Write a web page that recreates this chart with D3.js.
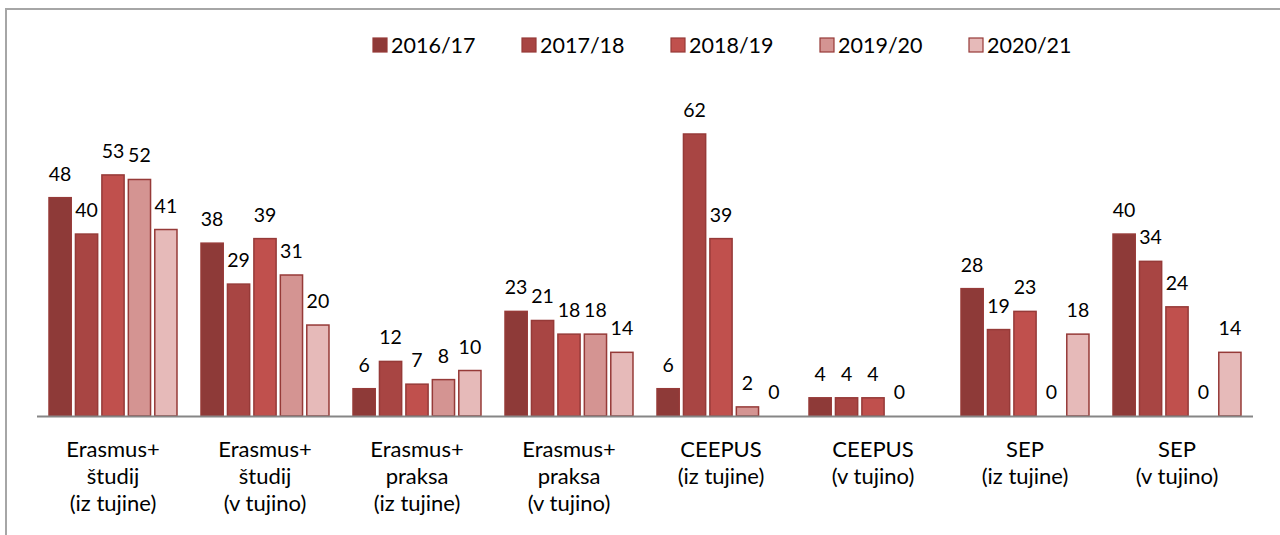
<!DOCTYPE html>
<html>
<head>
<meta charset="utf-8">
<script src="https://cdn.jsdelivr.net/npm/d3@7"></script>
<style>
  body { margin: 0; background: #fff; }
  svg { display: block; font-family: Lato, "Open Sans", sans-serif; }
</style>
</head>
<body>
<svg id="chart" width="1280" height="535"></svg>
<script>
// data
const categories = [
  ["Erasmus+", "študij", "(iz tujine)"],
  ["Erasmus+", "študij", "(v tujino)"],
  ["Erasmus+", "praksa", "(iz tujine)"],
  ["Erasmus+", "praksa", "(v tujino)"],
  ["CEEPUS", "(iz tujine)"],
  ["CEEPUS", "(v tujino)"],
  ["SEP", "(iz tujine)"],
  ["SEP", "(v tujino)"]
];
const years = ["2016/17", "2017/18", "2018/19", "2019/20", "2020/21"];
const v2016 = [48, 38, 6, 23, 6, 4, 28, 40];
const v2017 = [40, 29, 12, 21, 62, 4, 19, 34];
const v2018 = [53, 39, 7, 18, 39, 4, 23, 24];
const v2019 = [52, 31, 8, 18, 2, 0, 0, 0];
const v2020 = [41, 20, 10, 14, 0, null, 18, 14];
const seriesValues = [v2016, v2017, v2018, v2019, v2020];
const colors = ["#8e3a38", "#a84543", "#c0504d", "#d49492", "#e6bab9"];

const svg = d3.select("#chart");

// outer frame (left + top edges only visible)
svg.append("path")
  .attr("d", "M6,535 L6,9 L1280,9")
  .attr("fill", "none")
  .attr("stroke", "#a6a6a6")
  .attr("stroke-width", 2);

const catIdx = categories.map((c, i) => i);
const x0 = d3.scaleBand()
  .domain(catIdx)
  .range([37, 1253])
  .paddingInner(0.158)
  .paddingOuter(0.079);

const x1 = d3.scaleBand()
  .domain(years)
  .range([0, x0.bandwidth()])
  .paddingInner(0.16);

const y = d3.scaleLinear()
  .domain([0, 62])
  .range([416, 134]);

// bars
const groups = svg.append("g").selectAll("g")
  .data(catIdx)
  .join("g")
  .attr("transform", d => `translate(${x0(d)},0)`);

groups.selectAll("rect")
  .data(i => years.map((yr, s) => ({ yr, s, v: seriesValues[s][i] })).filter(d => d.v))
  .join("rect")
  .attr("x", d => x1(d.yr))
  .attr("y", d => y(d.v))
  .attr("width", x1.bandwidth())
  .attr("height", d => y(0) - y(d.v))
  .attr("fill", d => colors[d.s])
  .attr("stroke", "#963a38")
  .attr("stroke-width", 1.5);

// value labels
groups.selectAll("text")
  .data(i => years.map((yr, s) => ({ yr, s, v: seriesValues[s][i] })).filter(d => d.v !== null))
  .join("text")
  .attr("x", d => x1(d.yr) + x1.bandwidth() / 2)
  .attr("y", d => y(d.v) - 17)
  .attr("text-anchor", "middle")
  .attr("font-size", 19.5)
  .attr("fill", "#000")
  .text(d => d.v);

// category axis baseline
svg.append("line")
  .attr("x1", 37).attr("x2", 1253)
  .attr("y1", y(0) + 0.5).attr("y2", y(0) + 0.5)
  .attr("stroke", "#868686")
  .attr("stroke-width", 2);

// category labels
const catLabels = svg.append("g").selectAll("text")
  .data(catIdx)
  .join("text")
  .attr("text-anchor", "middle")
  .attr("font-size", 22)
  .attr("fill", "#000")
  .attr("transform", d => `translate(${x0(d) + x0.bandwidth() / 2},457)`);

catLabels.selectAll("tspan")
  .data(d => categories[d])
  .join("tspan")
  .attr("x", 0)
  .attr("y", (d, i) => i * 27)
  .text(d => d);

// legend
const legend = svg.append("g").selectAll("g")
  .data(years)
  .join("g")
  .attr("transform", (d, i) => `translate(${373 + i * 149},38)`);

legend.append("rect")
  .attr("width", 14).attr("height", 14)
  .attr("fill", (d, i) => colors[i])
  .attr("stroke", "#963a38")
  .attr("stroke-width", 1.2);

legend.append("text")
  .attr("x", 18)
  .attr("y", 15)
  .attr("font-size", 21.5)
  .attr("fill", "#000")
  .text(d => d);
</script>
</body>
</html>
